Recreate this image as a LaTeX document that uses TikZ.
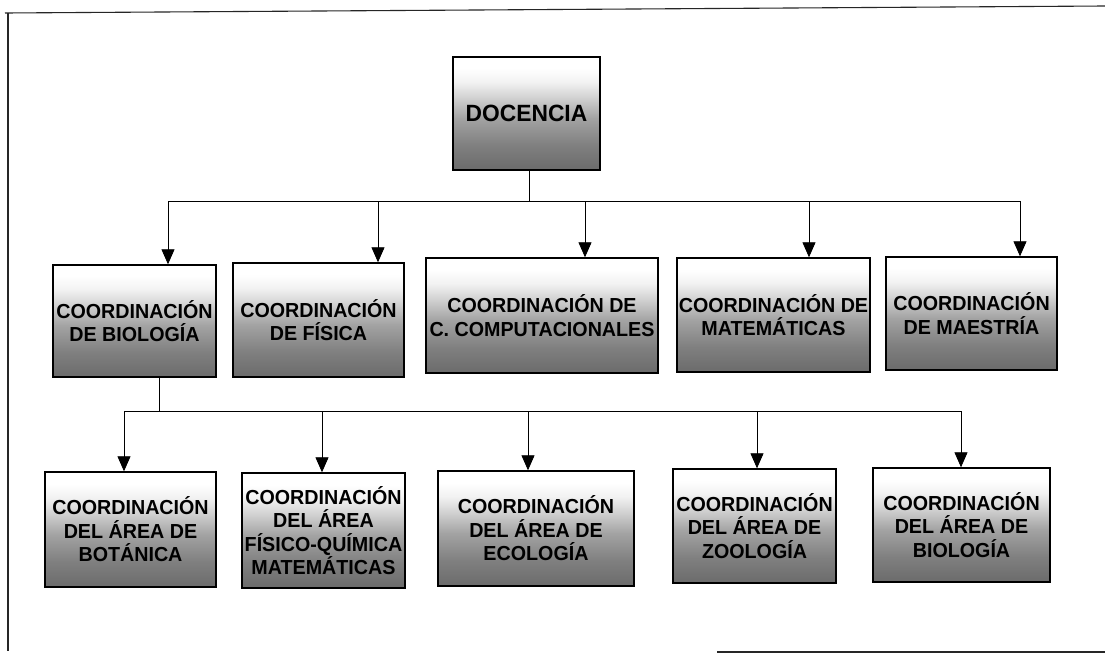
\documentclass[tikz,border=0pt]{standalone}
\usepackage{fontspec}
\newfontfamily\orgfont{Liberation Sans}[FakeStretch=0.97]
\usetikzlibrary{arrows.meta}
\pgfdeclareverticalshading{boxshade}{100bp}{color(0bp)=(black!58); color(25bp)=(black!58); color(36bp)=(black!50); color(48bp)=(black!36); color(58bp)=(black!16); color(64bp)=(black!5); color(70bp)=(white); color(100bp)=(white)}
\tikzset{
  orgbox/.style={draw=black, line width=1.4pt, shade, shading=boxshade, align=center,
    inner sep=0pt, font=\orgfont\bfseries\fontsize{20.3}{23.5}\selectfont},
  topbox/.style={orgbox, font=\orgfont\bfseries\fontsize{23.5}{26}\selectfont},
  link/.style={draw=black, line width=0.8pt},
  arr/.style={link, -{Triangle[width=13pt,length=15pt]}},
  frame/.style={draw=black!85, line width=1.1pt}
}
\begin{document}
\begin{tikzpicture}[x=1pt,y=-1pt]
\useasboundingbox (0,0) rectangle (1105,653);
\fill[white] (0,0) rectangle (1105,653);
% frame
\draw[frame] (5,13) -- (1105,6);
\draw[frame] (8,13) -- (8,651);
\draw[frame] (717,652) -- (1105,652);

% top
\node[topbox, minimum width=147, minimum height=113] (doc) at (526.5,113.5) {DOCENCIA};

% row 1
\node[orgbox, minimum width=163, minimum height=112] (bio) at (134.5,321) {COORDINACIÓN\\DE BIOLOGÍA};
\node[orgbox, minimum width=171, minimum height=114] (fis) at (318.5,320) {COORDINACIÓN\\DE FÍSICA};
\node[orgbox, minimum width=232, minimum height=115] (comp) at (542,315.5) {COORDINACIÓN DE\\C. COMPUTACIONALES};
\node[orgbox, minimum width=193, minimum height=114] (mat) at (773.5,315) {COORDINACIÓN DE\\MATEMÁTICAS};
\node[orgbox, minimum width=171, minimum height=113] (mae) at (971.5,313.5) {COORDINACIÓN\\DE MAESTRÍA};

% row 2
\node[orgbox, minimum width=171, minimum height=115] (bot) at (130.5,529.5) {COORDINACIÓN\\DEL ÁREA DE\\BOTÁNICA};
\node[orgbox, minimum width=163, minimum height=115] (fqm) at (323.5,530.5) {COORDINACIÓN\\DEL ÁREA\\FÍSICO-QUÍMICA\\MATEMÁTICAS};
\node[orgbox, minimum width=196, minimum height=115] (eco) at (536,528.5) {COORDINACIÓN\\DEL ÁREA DE\\ECOLOGÍA};
\node[orgbox, minimum width=163, minimum height=114] (zoo) at (754.5,526) {COORDINACIÓN\\DEL ÁREA DE\\ZOOLOGÍA};
\node[orgbox, minimum width=177, minimum height=114] (abio) at (961.5,525) {COORDINACIÓN\\DEL ÁREA DE\\BIOLOGÍA};

% bus 1
\coordinate (t1) at (168,201);
\coordinate (t2) at (378,201);
\coordinate (t3) at (585,201);
\coordinate (t4) at (809,201);
\coordinate (t5) at (1020,201);
\draw[link] (doc.south -| 529,0) -- (529,201);
\draw[link] (t1) -- (t5);
\draw[arr] (t1) -- (t1 |- bio.north);
\draw[arr] (t2) -- (t2 |- fis.north);
\draw[arr] (t3) -- (t3 |- comp.north);
\draw[arr] (t4) -- (t4 |- mat.north);
\draw[arr] (t5) -- (t5 |- mae.north);

% bus 2
\coordinate (s0) at (159,411);
\coordinate (s1) at (124,411);
\coordinate (s2) at (322,411);
\coordinate (s3) at (528,411);
\coordinate (s4) at (757,411);
\coordinate (s5) at (961,411);
\draw[link] (s0 |- bio.south) -- (s0);
\draw[link] (s1) -- (s5);
\draw[arr] (s1) -- (s1 |- bot.north);
\draw[arr] (s2) -- (s2 |- fqm.north);
\draw[arr] (s3) -- (s3 |- eco.north);
\draw[arr] (s4) -- (s4 |- zoo.north);
\draw[arr] (s5) -- (s5 |- abio.north);
\end{tikzpicture}
\end{document}
